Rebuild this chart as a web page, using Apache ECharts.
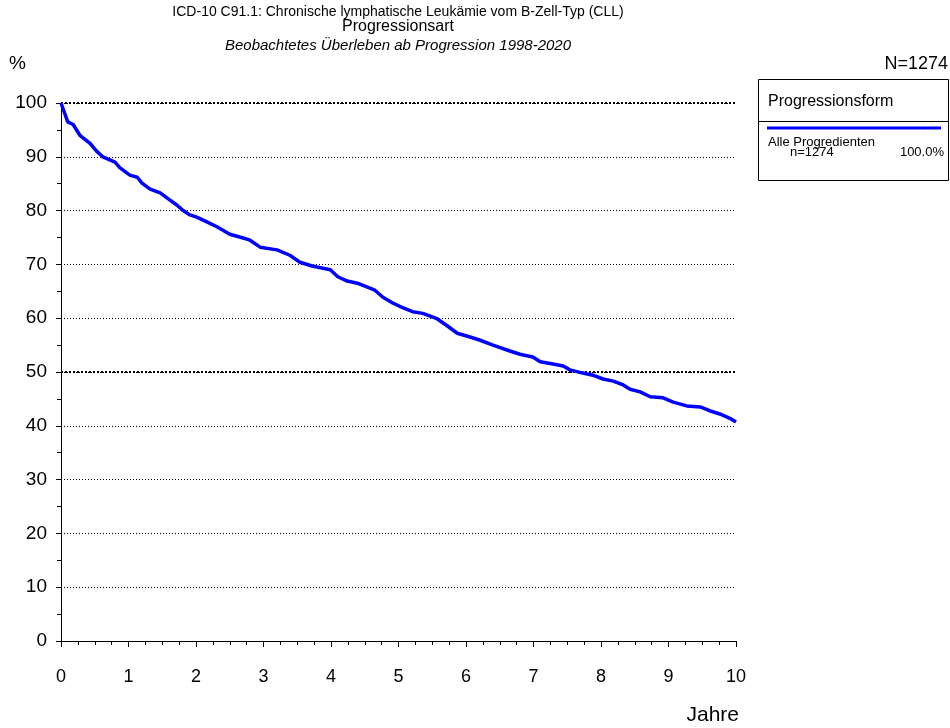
<!DOCTYPE html>
<html>
<head>
<meta charset="utf-8">
<script src="https://cdn.jsdelivr.net/npm/echarts@6/dist/echarts.min.js"></script>
<style>
html,body{margin:0;padding:0;background:#fff;}
#chart{width:950px;height:728px;}
</style>
</head>
<body>
<div id="chart"></div>
<script>
// Data
var years = [0, 0.10, 0.18, 0.28, 0.43, 0.53, 0.62, 0.80, 0.87, 1.02, 1.13, 1.20, 1.32, 1.47, 1.61, 1.72, 1.81, 1.91, 2.01, 2.16, 2.31, 2.50, 2.70, 2.80, 2.95, 3.20, 3.39, 3.54, 3.72, 3.99, 4.10, 4.24, 4.39, 4.53, 4.65, 4.77, 4.92, 5.07, 5.21, 5.36, 5.57, 5.72, 5.87, 6.06, 6.21, 6.40, 6.65, 6.80, 6.99, 7.10, 7.29, 7.44, 7.54, 7.73, 7.88, 8.03, 8.18, 8.33, 8.43, 8.58, 8.73, 8.92, 9.07, 9.27, 9.47, 9.61, 9.76, 9.91, 10.0];
var survival = [100, 96.5, 96.0, 94.0, 92.5, 91.0, 90.0, 89.0, 88.0, 86.6, 86.2, 85.1, 84.0, 83.3, 82.0, 81.0, 80.0, 79.2, 78.8, 77.9, 77.0, 75.6, 74.9, 74.5, 73.2, 72.7, 71.7, 70.4, 69.7, 69.0, 67.7, 66.9, 66.5, 65.8, 65.2, 63.9, 62.8, 61.9, 61.2, 60.9, 59.9, 58.6, 57.2, 56.5, 55.9, 55.0, 53.9, 53.3, 52.8, 51.9, 51.5, 51.1, 50.4, 49.8, 49.4, 48.7, 48.3, 47.6, 46.8, 46.3, 45.4, 45.2, 44.4, 43.7, 43.5, 42.8, 42.2, 41.4, 40.7];
var xTickLabels = [0, 1, 2, 3, 4, 5, 6, 7, 8, 9, 10];
var yTickLabels = [0, 10, 20, 30, 40, 50, 60, 70, 80, 90, 100];
var boldGridValues = [50, 100];
var titleLines = ['ICD-10 C91.1: Chronische lymphatische Leukämie vom B-Zell-Typ (CLL)', 'Progressionsart', 'Beobachtetes Überleben ab Progression 1998-2020'];
var seriesName = 'Alle Progredienten';
var nTotal = 'N=1274';
var nSeries = 'n=1274';
var pctSeries = '100.0%';
var legendTitle = 'Progressionsform';

var FONT = '"Liberation Sans", Arial, sans-serif';
var chart = echarts.init(document.getElementById('chart'), null, {renderer: 'canvas'});

var pts = years.map(function (t, i) { return [t, survival[i]]; });

function txt(text, font, x, y, align) {
  return {type: 'text', silent: true, style: {text: text, font: font, fill: '#000', textAlign: align || 'left', textVerticalAlign: 'middle', x: x, y: y}};
}

chart.setOption({
  animation: false,
  backgroundColor: '#ffffff',
  textStyle: {fontFamily: FONT},
  grid: {left: 61, right: 214, top: 103, bottom: 87, containLabel: false},
  xAxis: [{
    type: 'value', min: 0, max: 10, interval: 1, offset: 7,
    axisLine: {show: true, lineStyle: {color: '#000', width: 1}},
    axisTick: {show: true, inside: false, length: 6, lineStyle: {color: '#000'}},
    minorTick: {show: true, splitNumber: 4, length: 4, lineStyle: {color: '#000'}},
    axisLabel: {show: true, color: '#000', fontSize: 18, fontFamily: FONT, margin: 20,
      formatter: function (v) { return xTickLabels.indexOf(v) >= 0 ? String(v) : ''; }},
    splitLine: {show: false}
  }],
  yAxis: [{
    type: 'value', min: 0, max: 100, interval: 10, offset: 4,
    axisLine: {show: true, lineStyle: {color: '#000', width: 1}},
    axisTick: {show: true, length: 5, lineStyle: {color: '#000'}},
    minorTick: {show: true, splitNumber: 2, length: 4, lineStyle: {color: '#000'}},
    axisLabel: {show: true, color: '#000', fontSize: 19, fontFamily: FONT, margin: 10,
      formatter: function (v) { return yTickLabels.indexOf(v) >= 0 ? String(v) : ''; }},
    splitLine: {show: true, lineStyle: {color: '#000', width: 1, type: [1, 2]}}
  }],
  series: [{
    name: seriesName,
    type: 'line',
    data: pts,
    showSymbol: false,
    symbol: 'none',
    lineStyle: {color: '#0000ff', width: 3.5},
    z: 5,
    markLine: {
      silent: true, symbol: 'none', label: {show: false},
      lineStyle: {color: '#000', width: 2, type: [2, 2]},
      data: boldGridValues.map(function (v) { return {yAxis: v}; }),
      z: 3
    }
  }],
  graphic: [
    txt(titleLines[0], '14px ' + FONT, 398, 12, 'center'),
    txt(titleLines[1], '16px ' + FONT, 398, 27, 'center'),
    txt(titleLines[2], 'italic 15px ' + FONT, 398, 46, 'center'),
    txt('%', '19px ' + FONT, 9, 64),
    txt(nTotal, '18px ' + FONT, 948, 64, 'right'),
    txt('Jahre', '21px ' + FONT, 739, 715, 'right'),
    {type: 'rect', silent: true, shape: {x: 758.5, y: 79.5, width: 190, height: 101}, style: {fill: '#fff', stroke: '#000', lineWidth: 1}},
    {type: 'line', silent: true, shape: {x1: 758, y1: 121.5, x2: 948, y2: 121.5}, style: {stroke: '#000', lineWidth: 1}},
    txt(legendTitle, '16px ' + FONT, 768, 102),
    {type: 'line', silent: true, shape: {x1: 767, y1: 128, x2: 941, y2: 128}, style: {stroke: '#0000ff', lineWidth: 3}},
    txt(seriesName, '13px ' + FONT, 768, 142),
    txt(nSeries, '13px ' + FONT, 790, 152),
    txt(pctSeries, '13px ' + FONT, 944, 152, 'right')
  ]
});
</script>
</body>
</html>
